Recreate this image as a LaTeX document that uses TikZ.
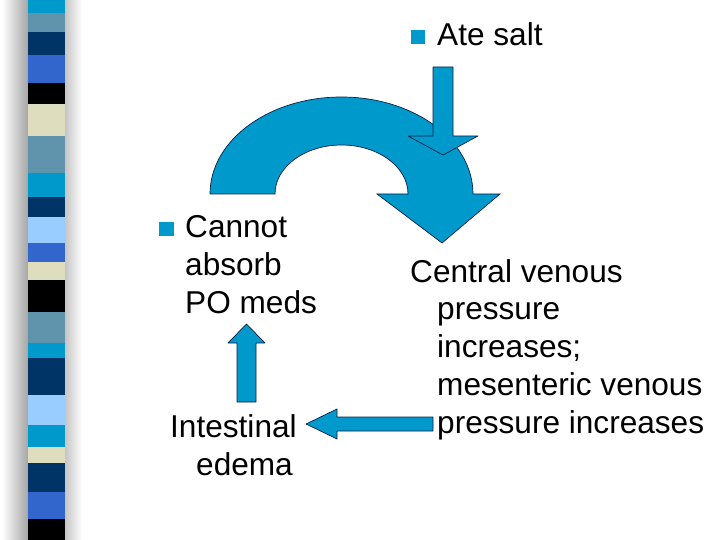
\documentclass[tikz,border=0pt]{standalone}
\usepackage{tkz-euclide}
\usepackage{fontspec}
\setmainfont{Liberation Sans}
\definecolor{arrowblue}{RGB}{0,153,204}
\definecolor{arrowline}{RGB}{12,30,70}
\definecolor{stripcyan}{RGB}{0,153,204}
\definecolor{stripsteel}{RGB}{96,148,172}
\definecolor{stripnavy}{RGB}{0,51,102}
\definecolor{stripblue}{RGB}{51,102,204}
\definecolor{stripbeige}{RGB}{222,222,190}
\definecolor{striplight}{RGB}{153,204,255}

\begin{document}
\begin{tikzpicture}[x=1pt,y=-1pt,
        txt/.style={anchor=base west,inner sep=0pt,font=\fontsize{31.6}{36}\selectfont},
        blockarrow/.style={fill=arrowblue,draw=arrowline,line width=0.7pt}]
        % 初始化
        \useasboundingbox (0,0) rectangle (720,540);
        % 左侧阴影
        \shade[left color=white,right color=gray!70] (2,0) rectangle (28,540);
        \shade[left color=gray!45,right color=white] (65,0) rectangle (82,540);
        % 彩色条纹
        \foreach \ya/\yb/\col in {0/13/stripcyan, 13/32/stripsteel, 32/55/stripnavy,
            55/83/stripblue, 83/104/black, 104/136/stripbeige, 136/173/stripsteel,
            173/197/stripcyan, 197/217/stripnavy, 217/243/striplight, 243/262/stripblue,
            262/280/stripbeige, 280/312/black, 312/343/stripsteel, 343/358/stripcyan,
            358/395/stripnavy, 395/425/striplight, 425/447/stripcyan, 447/463/stripbeige,
            463/492/stripnavy, 492/519/stripblue, 519/540/black}
          \fill[\col] (28,\ya) rectangle (65,\yb);
        % 绘制弯箭头
        \draw[blockarrow] (210,194)
          arc[start angle=180,end angle=360,x radius=131.5,y radius=97]
          -- (500,194) -- (442,243) -- (377,194) -- (408,194)
          arc[start angle=0,end angle=-180,x radius=66.5,y radius=49] -- cycle;
        % 定义向下箭头的点
        \tkzDefPoints{433/67/A, 453/67/B, 453/136/C, 478/136/D, 443/155/E, 408/136/F, 433/136/G}
        \tkzDrawPolygon[blockarrow](A,B,C,D,E,F,G)
        % 定义向上箭头的点
        \tkzDefPoints{237/402/H, 256/402/I, 256/343/J, 265/343/K, 246.5/324/L, 228/343/M, 237/343/N}
        \tkzDrawPolygon[blockarrow](H,I,J,K,L,M,N)
        % 定义向左箭头的点
        \tkzDefPoints{433/417/P, 433/431/Q, 337/431/R, 337/439/S, 306/424/T, 337/409/U, 337/417/V}
        \tkzDrawPolygon[blockarrow](P,Q,R,S,T,U,V)
        % 项目符号
        \fill[arrowblue] (411,30) rectangle (425,44);
        \fill[arrowblue] (159,222) rectangle (174,236);
        % 文字
        \node[txt] (salt) at (437,46) {Ate salt};
        \node[txt] (cannot) at (185,237) {Cannot};
        \node[txt] (absorb) at (185,275) {absorb};
        \node[txt] (meds) at (185,313) {PO meds};
        \node[txt] (intest) at (170,437) {Intestinal};
        \node[txt] (edema) at (196,475) {edema};
        \node[txt] (cvp) at (410,282) {Central venous};
        \node[txt] (press) at (437,319) {pressure};
        \node[txt] (incr) at (437,357) {increases;};
        \node[txt] (mvp) at (437,395) {mesenteric venous};
        \node[txt] (mvpinc) at (437,433) {pressure increases};
      \end{tikzpicture}
\end{document}
